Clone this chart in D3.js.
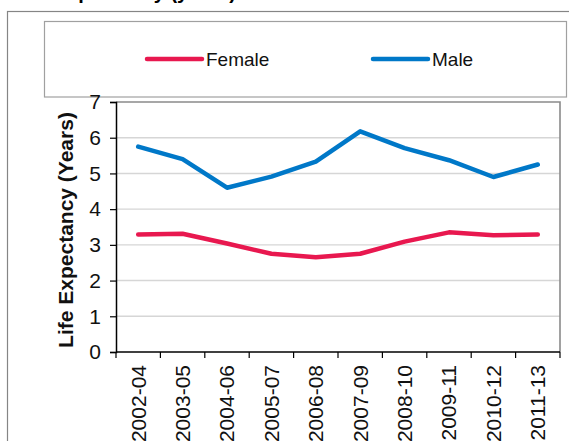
<!DOCTYPE html>
<html>
<head>
<meta charset="utf-8">
<script src="https://cdn.jsdelivr.net/npm/d3@7"></script>
<style>
  body { margin: 0; background: #fff; }
  svg { display: block; font-family: "Liberation Sans", Arial, sans-serif; }
</style>
</head>
<body>
<svg id="chart"></svg>
<script>
const periods = ["2002-04", "2003-05", "2004-06", "2005-07", "2006-08",
                 "2007-09", "2008-10", "2009-11", "2010-12", "2011-13"];
const female = [3.29, 3.31, 3.04, 2.75, 2.65, 2.75, 3.09, 3.35, 3.27, 3.29];
const male   = [5.75, 5.40, 4.60, 4.91, 5.33, 6.18, 5.71, 5.37, 4.90, 5.25];
const yTicks = [0, 1, 2, 3, 4, 5, 6, 7];

const W = 569, H = 441;
const margin = { top: 102, right: 9, bottom: 89, left: 116 },
      width = W - margin.left - margin.right,
      height = H - margin.top - margin.bottom;

const colors = { Female: "#e8184f", Male: "#0078c8" };

const svg = d3.select("#chart").attr("width", W).attr("height", H);

// chart title, cut off by the top edge as in the source
svg.append("text")
  .attr("x", 236).attr("y", -1)
  .attr("text-anchor", "end")
  .style("font-size", "20px").style("font-weight", "bold")
  .text("Life Expectancy (years)");

// outer chart frame
svg.append("rect")
  .attr("x", 7.5).attr("y", 11.5)
  .attr("width", 620).attr("height", 500)
  .attr("fill", "#fff").attr("stroke", "#858585").attr("stroke-width", 1.2);

// legend box
svg.append("rect")
  .attr("x", 44.5).attr("y", 21.5)
  .attr("width", 522).attr("height", 75.5)
  .attr("fill", "#fff").attr("stroke", "#a0a0a0").attr("stroke-width", 1.2);

const legend = [
  { name: "Female", x: 147 },
  { name: "Male", x: 373 }
];
legend.forEach(l => {
  svg.append("line")
    .attr("x1", l.x).attr("x2", l.x + 55)
    .attr("y1", 59).attr("y2", 59)
    .attr("stroke", colors[l.name]).attr("stroke-width", 4.5)
    .attr("stroke-linecap", "round");
  svg.append("text")
    .attr("x", l.x + 59).attr("y", 66)
    .style("font-size", "19px").style("fill", "#111")
    .text(l.name);
});

const g = svg.append("g")
  .attr("transform", `translate(${margin.left},${margin.top})`);

const x = d3.scaleBand().domain(periods).range([0, width]);
const y = d3.scaleLinear().domain([0, 7]).range([height, 0]);

// gridlines
g.selectAll(".grid")
  .data(yTicks.filter(t => t > 0 && t < 7))
  .join("line")
  .attr("x1", 0).attr("x2", width)
  .attr("y1", d => y(d)).attr("y2", d => y(d))
  .attr("stroke", "#d6d6d6").attr("stroke-width", 1.4);

// plot frame top / right
g.append("path")
  .attr("d", `M0,0H${width}V${height}`)
  .attr("fill", "none").attr("stroke", "#8a8a8a").attr("stroke-width", 1.6);

// y axis
const yAxis = g.append("g")
  .call(d3.axisLeft(y).tickValues(yTicks).tickFormat(d3.format("d"))
    .tickSize(6).tickPadding(9));
yAxis.select(".domain").attr("stroke", "#000").attr("stroke-width", 1.5);
yAxis.selectAll(".tick line").attr("stroke", "#000").attr("stroke-width", 1.2);
yAxis.selectAll("text")
  .style("font-size", "21px").style("fill", "#111")
  .style("font-family", "'Liberation Sans', Arial, sans-serif");

// x axis: ticks at band boundaries
const xAxis = g.append("g").attr("transform", `translate(0,${height})`);
xAxis.append("line")
  .attr("x1", 0).attr("x2", width)
  .attr("stroke", "#000").attr("stroke-width", 1.5);
xAxis.selectAll(".xtick")
  .data(periods.concat(["end"]))
  .join("line")
  .attr("x1", (d, i) => i < periods.length ? x(d) : width)
  .attr("x2", (d, i) => i < periods.length ? x(d) : width)
  .attr("y1", 0).attr("y2", 6)
  .attr("stroke", "#000").attr("stroke-width", 1.2);
xAxis.selectAll(".xlabel")
  .data(periods)
  .join("text")
  .attr("transform", d => `translate(${x(d) + x.bandwidth() / 2},13) rotate(-90)`)
  .attr("text-anchor", "end")
  .attr("dy", "0.35em")
  .style("font-size", "21px").style("fill", "#111")
  .text(d => d);

// y axis title
svg.append("text")
  .attr("transform", "translate(73,230) rotate(-90)")
  .attr("text-anchor", "middle")
  .style("font-size", "21px").style("font-weight", "bold").style("fill", "#111")
  .text("Life Expectancy (Years)");

// lines
const line = d3.line()
  .x((d, i) => x(periods[i]) + x.bandwidth() / 2)
  .y(d => y(d));

[["Female", female], ["Male", male]].forEach(([name, vals]) => {
  g.append("path")
    .datum(vals)
    .attr("d", line)
    .attr("fill", "none")
    .attr("stroke", colors[name])
    .attr("stroke-width", 4.5)
    .attr("stroke-linejoin", "round")
    .attr("stroke-linecap", "round");
});
</script>
</body>
</html>
